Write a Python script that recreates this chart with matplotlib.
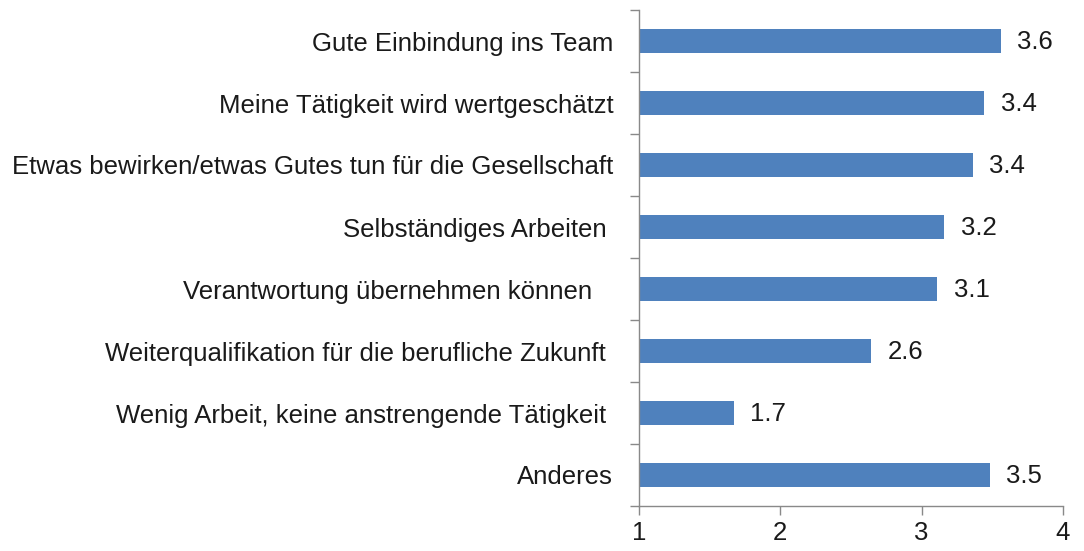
import matplotlib
matplotlib.use("Agg")
import matplotlib.pyplot as plt
import numpy as np

categories = [
    "Gute Einbindung ins Team",
    "Meine Tätigkeit wird wertgeschätzt",
    "Etwas bewirken/etwas Gutes tun für die Gesellschaft",
    "Selbständiges Arbeiten ",
    "Verantwortung übernehmen können   ",
    "Weiterqualifikation für die berufliche Zukunft ",
    "Wenig Arbeit, keine anstrengende Tätigkeit ",
    "Anderes",
]
values = [3.56, 3.44, 3.36, 3.16, 3.11, 2.64, 1.67, 3.48]
x_ticks = [1, 2, 3, 4]

plt.rcParams['font.family'] = ['Liberation Sans', 'DejaVu Sans']
FS = 18.5
TXT = "#1a1a1a"

fig = plt.figure(figsize=(10.84, 5.51), dpi=100)
ax = fig.add_axes([639/1084, 45/551, 424/1084, 496/551])

n = len(categories)
ypos = np.arange(n)
base = 1
ax.barh(ypos, [v - base for v in values], left=base, height=0.39, color="#4F81BD")
for y, v in zip(ypos, values):
    ax.annotate(f"{v:.1f}", xy=(v, y), xytext=(12, -1), textcoords="offset points",
                va="center", ha="left", fontsize=FS, color=TXT)

ax.set_xlim(1, 4)
ax.set_ylim(n - 0.5, -0.5)
ax.set_xticks(x_ticks)
ax.set_xticklabels([str(t) for t in x_ticks], fontsize=FS, color=TXT)
ax.set_yticks(ypos)
ax.set_yticklabels(categories, fontsize=FS, color=TXT)
ax.set_yticks(np.arange(-0.5, n, 1), minor=True)
ax.tick_params(axis="y", which="major", length=0, pad=18.5)
ax.tick_params(axis="y", which="minor", length=6.5, color="#898989", width=1)
ax.tick_params(axis="x", length=6.5, color="#898989", width=1, pad=4)

for s in ["top", "right"]:
    ax.spines[s].set_visible(False)
for s in ["left", "bottom"]:
    ax.spines[s].set_color("#898989")
    ax.spines[s].set_linewidth(1)

fig.savefig("out.png", dpi=100)
